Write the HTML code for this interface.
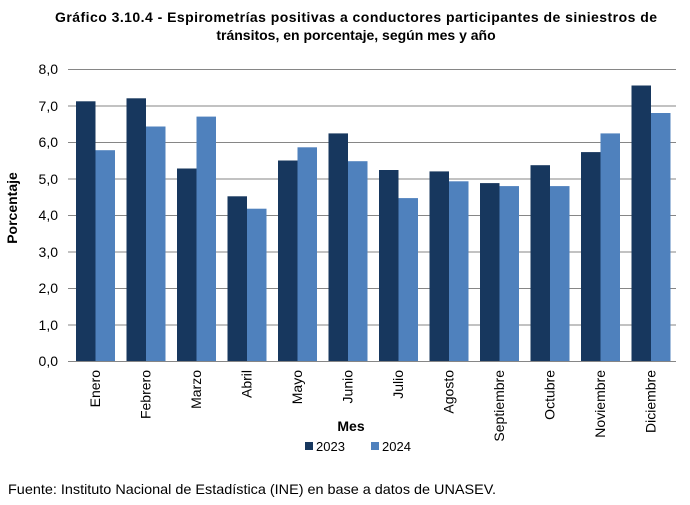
<!DOCTYPE html>
<html><head><meta charset="utf-8"><style>body{margin:0;background:#fff}svg{display:block}</style></head><body>
<svg width="690" height="505" xmlns="http://www.w3.org/2000/svg" font-family="Liberation Sans, Arial, sans-serif">
<text x="55" y="22" font-size="14" font-weight="bold" textLength="602" lengthAdjust="spacing">Gráfico 3.10.4 - Espirometrías positivas a conductores participantes de siniestros de</text>
<text x="356" y="40" text-anchor="middle" font-size="14" font-weight="bold">tránsitos, en porcentaje, según mes y año</text>
<g stroke="#868686" stroke-width="1">
<line x1="68" x2="676" y1="69.5" y2="69.5"/><line x1="68" x2="676" y1="106" y2="106"/><line x1="68" x2="676" y1="142.5" y2="142.5"/><line x1="68" x2="676" y1="179" y2="179"/><line x1="68" x2="676" y1="215.5" y2="215.5"/><line x1="68" x2="676" y1="252" y2="252"/><line x1="68" x2="676" y1="288.5" y2="288.5"/><line x1="68" x2="676" y1="325" y2="325"/>
</g>
<g font-size="14" text-anchor="end">
<text x="58" y="74">8,0</text><text x="58" y="111">7,0</text><text x="58" y="147">6,0</text><text x="58" y="184">5,0</text><text x="58" y="220">4,0</text><text x="58" y="257">3,0</text><text x="58" y="293">2,0</text><text x="58" y="330">1,0</text><text x="58" y="366">0,0</text>
</g>
<text transform="translate(17,208) rotate(-90)" text-anchor="middle" font-size="14" font-weight="bold">Porcentaje</text>
<g fill="#17375e">
<rect x="76" y="101.3" width="19.5" height="260.2"/>
<rect x="126.5" y="98.3" width="19.5" height="263.2"/>
<rect x="177" y="168.5" width="19.5" height="193"/>
<rect x="227.5" y="196.3" width="19.5" height="165.2"/>
<rect x="278" y="160.5" width="19.5" height="201"/>
<rect x="328.5" y="133.4" width="19.5" height="228.1"/>
<rect x="379" y="170" width="19.5" height="191.5"/>
<rect x="429.5" y="171.4" width="19.5" height="190.1"/>
<rect x="480" y="183.1" width="19.5" height="178.4"/>
<rect x="530.5" y="165.2" width="19.5" height="196.3"/>
<rect x="581" y="152.1" width="19.5" height="209.4"/>
<rect x="631.5" y="85.5" width="19.5" height="276"/>
</g>
<g fill="#4f81bd">
<rect x="95.5" y="150.2" width="19.5" height="211.3"/>
<rect x="146" y="126.5" width="19.5" height="235"/>
<rect x="196.5" y="116.6" width="19.5" height="244.9"/>
<rect x="247" y="208.7" width="19.5" height="152.8"/>
<rect x="297.5" y="147.3" width="19.5" height="214.2"/>
<rect x="348" y="161.2" width="19.5" height="200.3"/>
<rect x="398.5" y="198.1" width="19.5" height="163.4"/>
<rect x="449" y="181.3" width="19.5" height="180.2"/>
<rect x="499.5" y="186.1" width="19.5" height="175.4"/>
<rect x="550" y="186.1" width="19.5" height="175.4"/>
<rect x="600.5" y="133.4" width="19.5" height="228.1"/>
<rect x="651" y="113" width="19.5" height="248.5"/>
</g>
<g font-size="14" text-anchor="end">
<text transform="translate(100,370) rotate(-90)">Enero</text>
<text transform="translate(150.5,370) rotate(-90)">Febrero</text>
<text transform="translate(201,370) rotate(-90)">Marzo</text>
<text transform="translate(251.5,370) rotate(-90)">Abril</text>
<text transform="translate(302,370) rotate(-90)">Mayo</text>
<text transform="translate(352.5,370) rotate(-90)">Junio</text>
<text transform="translate(403,370) rotate(-90)">Julio</text>
<text transform="translate(453.5,370) rotate(-90)">Agosto</text>
<text transform="translate(504,370) rotate(-90)">Septiembre</text>
<text transform="translate(554.5,370) rotate(-90)">Octubre</text>
<text transform="translate(605,370) rotate(-90)">Noviembre</text>
<text transform="translate(655.5,370) rotate(-90)">Diciembre</text>
</g>
<line x1="68" x2="676" y1="361.5" y2="361.5" stroke="#868686"/>
<text x="351" y="431" text-anchor="middle" font-size="14" font-weight="bold">Mes</text>
<rect x="305" y="442" width="8" height="8" fill="#17375e"/><text x="316" y="451" font-size="13">2023</text>
<rect x="371" y="442" width="8" height="8" fill="#4f81bd"/><text x="382" y="451" font-size="13">2024</text>
<text x="8" y="494" font-size="14" textLength="488" lengthAdjust="spacingAndGlyphs">Fuente: Instituto Nacional de Estadística (INE) en base a datos de UNASEV.</text>
</svg>
</body></html>
